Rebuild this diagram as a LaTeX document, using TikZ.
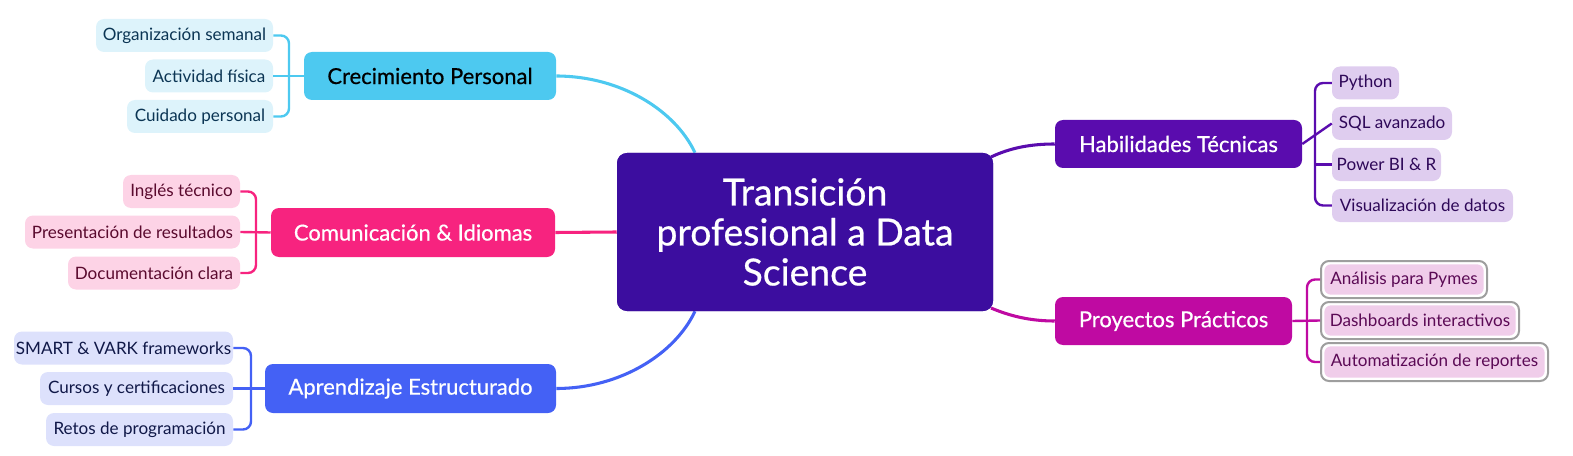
\documentclass[tikz,border=0pt]{standalone}
\usepackage{fontspec}
\setmainfont{Lato}
\newfontfamily\medfont[FakeBold=0.6]{Lato}
\definecolor{cen}{HTML}{3C0D9F}
\definecolor{crec}{HTML}{4DC9F0}
\definecolor{crecL}{HTML}{DDF3FB}
\definecolor{crecT}{HTML}{0B3554}
\definecolor{com}{HTML}{F7237F}
\definecolor{comL}{HTML}{FDD3E6}
\definecolor{comT}{HTML}{5A0A2E}
\definecolor{apr}{HTML}{4461F5}
\definecolor{aprL}{HTML}{DDE1FC}
\definecolor{aprT}{HTML}{101848}
\definecolor{hab}{HTML}{5A0CAE}
\definecolor{habL}{HTML}{DFCDEF}
\definecolor{habT}{HTML}{2E0858}
\definecolor{pro}{HTML}{BF0AA2}
\definecolor{proL}{HTML}{F0CDEA}
\definecolor{proT}{HTML}{5B0A55}
\definecolor{proB}{HTML}{9E9E9E}
\begin{document}
\begin{tikzpicture}[x=0.75pt,y=-0.75pt,
  sz/.style 2 args={minimum width=#1*0.75pt, minimum height=#2*0.75pt},
  maintopic/.style={rectangle, rounded corners=6pt, inner sep=0pt, text=white,
    font=\medfont\fontsize{16.5pt}{19pt}\selectfont},
  subtopic/.style={rectangle, rounded corners=6pt, inner sep=0pt,
    font=\fontsize{12.8pt}{14pt}\selectfont},
  centre/.style={rectangle, rounded corners=7.5pt, fill=cen, text=white, sz={376}{158}, align=center,
    font=\medfont\fontsize{28pt}{30pt}\selectfont},
  probox/.style={subtopic, draw=proB, line width=1.5pt, fill=white, text=proT,
    path picture={\fill[proL, rounded corners=5pt]
      ([shift={(2.5pt,-2.5pt)}]path picture bounding box.north west) rectangle
      ([shift={(-2.5pt,2.5pt)}]path picture bounding box.south east);}},
  link/.style={line width=2.3pt},
  brk/.style={line width=1.8pt, rounded corners=6pt}
]
\useasboundingbox (0,0) rectangle (1573,456);

% central (placed first for naming; redrawn on top of the links)
\node[centre] (c) at (805,232) {Transición\\profesional a Data\\Science};

% main topics
\node[maintopic, fill=crec, text=black, sz={252}{48}] (cr) at (430,76) {Crecimiento Personal};
\node[maintopic, fill=com, sz={284}{49}] (co) at (413,232.5) {Comunicación \& Idiomas};
\node[maintopic, fill=apr, sz={291}{49}] (ap) at (410.5,388.5) {Aprendizaje Estructurado};
\node[maintopic, fill=hab, sz={247}{48}] (ha) at (1178.5,144) {Habilidades Técnicas};
\node[maintopic, fill=pro, sz={237}{48}] (pr) at (1173.5,321) {Proyectos Prácticos};

% main connectors
\draw[link, crec] (cr.east) .. controls (620,76) and (675,110) .. (c.north -| 695,0);
\draw[link, apr] (ap.east) .. controls (620,388.5) and (675,354) .. (c.south -| 695,0);
\draw[link, com] (co.east) -- (c.west);
\coordinate (hs) at (991,157);
\coordinate (ps) at (991,308);
\draw[link, hab] (hs) .. controls (1010,148) and (1030,144) .. (ha.west);
\draw[link, pro] (ps) .. controls (1010,316) and (1030,321) .. (pr.west);
\node[centre] (c2) at (805,232) {Transición\\profesional a Data\\Science};

% Crecimiento children
\node[subtopic, fill=crecL, text=crecT, sz={177}{33}] (cr1) at (184.5,35.5) {Organización semanal};
\node[subtopic, fill=crecL, text=crecT, sz={128}{33}] (cr2) at (209,76) {Actividad física};
\node[subtopic, fill=crecL, text=crecT, sz={146}{33}] (cr3) at (200,116.5) {Cuidado personal};
\draw[brk, crec] (cr1.east) -- (289,35.5) -- (289,116.5) -- (cr3.east);
\draw[brk, crec] (cr2.east) -- (cr.west);

% Comunicacion children
\node[subtopic, fill=comL, text=comT, sz={117}{33}] (co1) at (181.5,191.5) {Inglés técnico};
\node[subtopic, fill=comL, text=comT, sz={215}{33}] (co2) at (132.5,232) {Presentación de resultados};
\node[subtopic, fill=comL, text=comT, sz={172}{33}] (co3) at (154,273) {Documentación clara};
\draw[brk, com] (co1.east) -- (256,191.5) -- (256,273) -- (co3.east);
\draw[brk, com] (co2.east) -- (co.west);

% Aprendizaje children
\node[subtopic, fill=aprL, text=aprT, sz={219}{33}] (ap1) at (123.5,348) {SMART \& VARK frameworks};
\node[subtopic, fill=aprL, text=aprT, sz={193}{33}] (ap2) at (136.5,388.5) {Cursos y certificaciones};
\node[subtopic, fill=aprL, text=aprT, sz={187}{33}] (ap3) at (139.5,429.5) {Retos de programación};
\draw[brk, apr] (ap1.east) -- (251,348) -- (251,429.5) -- (ap3.east);
\draw[brk, apr] (ap2.east) -- (ap.west);

% Habilidades children
\node[subtopic, fill=habL, text=habT, sz={67}{33}] (ha1) at (1365.5,83) {Python};
\node[subtopic, fill=habL, text=habT, sz={120}{33}] (ha2) at (1392,123.5) {SQL avanzado};
\node[subtopic, fill=habL, text=habT, sz={109}{33}] (ha3) at (1386.5,164.5) {Power BI \& R};
\node[subtopic, fill=habL, text=habT, sz={181}{33}] (ha4) at (1422.5,205.5) {Visualización de datos};
\draw[brk, hab] (ha1.west) -- (1315,83) -- (1315,205.5) -- (ha4.west);
\draw[brk, hab] (ha.east) -- (ha2.west);
\draw[brk, hab] (1315,164.5) -- (ha3.west);

% Proyectos children
\node[probox, sz={166}{37}] (pr1) at (1404,279.5) {Análisis para Pymes};
\node[probox, sz={198}{37}] (pr2) at (1420,320.5) {Dashboards interactivos};
\node[probox, sz={227}{38}] (pr3) at (1434.5,362) {Automatización de reportes};
\draw[brk, pro] (pr1.west) -- (1307,279.5) -- (1307,362) -- (pr3.west);
\draw[brk, pro] (pr.east) -- (pr2.west);
\end{tikzpicture}
\end{document}
